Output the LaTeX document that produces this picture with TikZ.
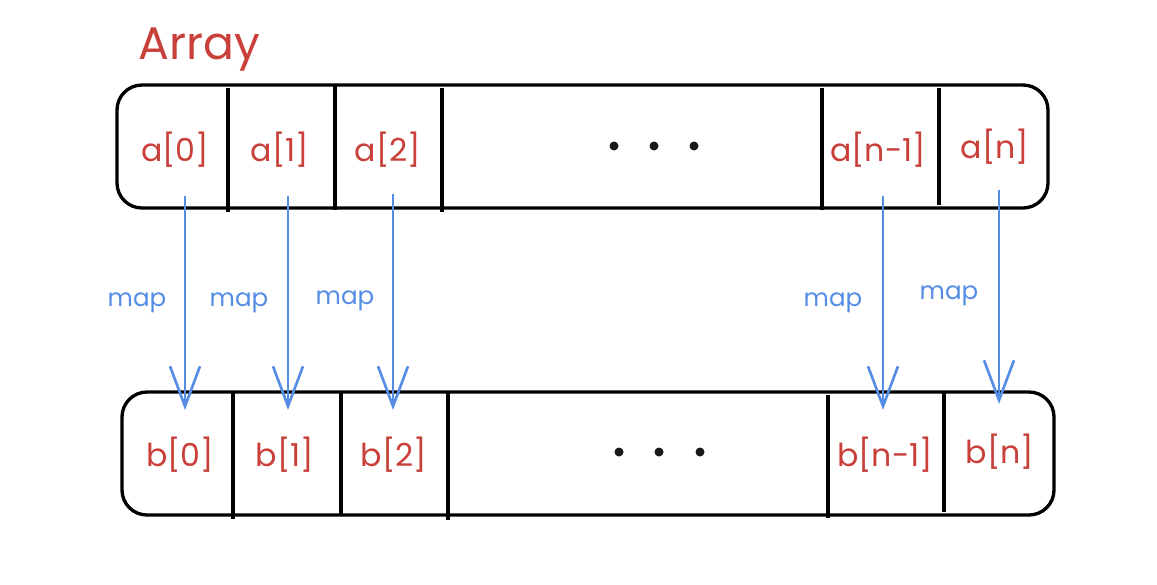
\documentclass[tikz,border=0pt]{standalone}
\usepackage{fontspec}
\setmainfont{Poppins}
\usepackage{xcolor}
\usepackage{tikz}
\usetikzlibrary{arrows.meta}
\definecolor{arrred}{RGB}{201,64,58}
\definecolor{mapblue}{RGB}{85,140,228}

\begin{document}
\begin{tikzpicture}[x=0.02cm, y=-0.02cm,
	boks/.style={draw, line width=1.9pt, rounded corners=0.5cm},
	skille/.style={line width=1.9pt},
	celle/.style={text=arrred, font=\fontsize{18}{21}\selectfont},
	prikk/.style={circle, fill=black!90, inner sep=0pt, minimum size=0.18cm},
	pil/.style={draw=mapblue, line width=1.5pt, -{Straight Barb[length=0.8cm, width=0.6cm, line width=1.5pt]}},
	merke/.style={text=mapblue, font=\fontsize{14}{16}\selectfont}]
	\useasboundingbox (0,0) rectangle (1157,585);

	%Tittel
	\node[text=arrred, font=\fontsize{26}{30}\selectfont] (tittel) at (199,50) {Array};

	%Boksene her
	\draw[boks] (117,85) rectangle (1048,208);
	\draw[skille] (228,88) -- (228,212);
	\draw[skille] (335,84) -- (335,210);
	\draw[skille] (442,88) -- (442,212);
	\draw[skille] (822,88) -- (822,210);
	\draw[skille] (939,88) -- (939,205);

	\draw[boks] (122,392) rectangle (1054,515);
	\draw[skille] (233,392) -- (233,519);
	\draw[skille] (341,392) -- (341,515);
	\draw[skille] (448,392) -- (448,520);
	\draw[skille] (828,395) -- (828,518);
	\draw[skille] (944,392) -- (944,512);

	%Nodene går her
	\node[celle] (a0) at (175,150) {a[0]};
	\node[celle] (a1) at (280,150) {a[1]};
	\node[celle] (a2) at (388,150) {a[2]};
	\node[prikk] (ap1) at (614,146) {};
	\node[prikk] (ap2) at (654,146) {};
	\node[prikk] (ap3) at (694,146) {};
	\node[celle] (an1) at (878,150) {a[n-1]};
	\node[celle] (an) at (995,147) {a[n]};

	\node[celle] (b0) at (180,455) {b[0]};
	\node[celle] (b1) at (285,455) {b[1]};
	\node[celle] (b2) at (394,455) {b[2]};
	\node[prikk] (bp1) at (619,452) {};
	\node[prikk] (bp2) at (659,452) {};
	\node[prikk] (bp3) at (700,452) {};
	\node[celle] (bn1) at (885,455) {b[n-1]};
	\node[celle] (bn) at (1000,452) {b[n]};

	%Pilene defineres her
	\coordinate (s0) at (185,196);  \coordinate (e0) at (185,410);
	\coordinate (s1) at (288,196);  \coordinate (e1) at (288,410);
	\coordinate (s2) at (393,194);  \coordinate (e2) at (393,410);
	\coordinate (sn1) at (883,196); \coordinate (en1) at (883,410);
	\coordinate (sn) at (999,190);  \coordinate (en) at (999,404);

	\draw[pil] (s0) -- (e0);
	\draw[pil] (s1) -- (e1);
	\draw[pil] (s2) -- (e2);
	\draw[pil] (sn1) -- (en1);
	\draw[pil] (sn) -- (en);

	\node[merke] (m0) at (137,303) {map};
	\node[merke] (m1) at (239,303) {map};
	\node[merke] (m2) at (345,301) {map};
	\node[merke] (mn1) at (833,303) {map};
	\node[merke] (mn) at (949,296) {map};

\end{tikzpicture}
\end{document}
